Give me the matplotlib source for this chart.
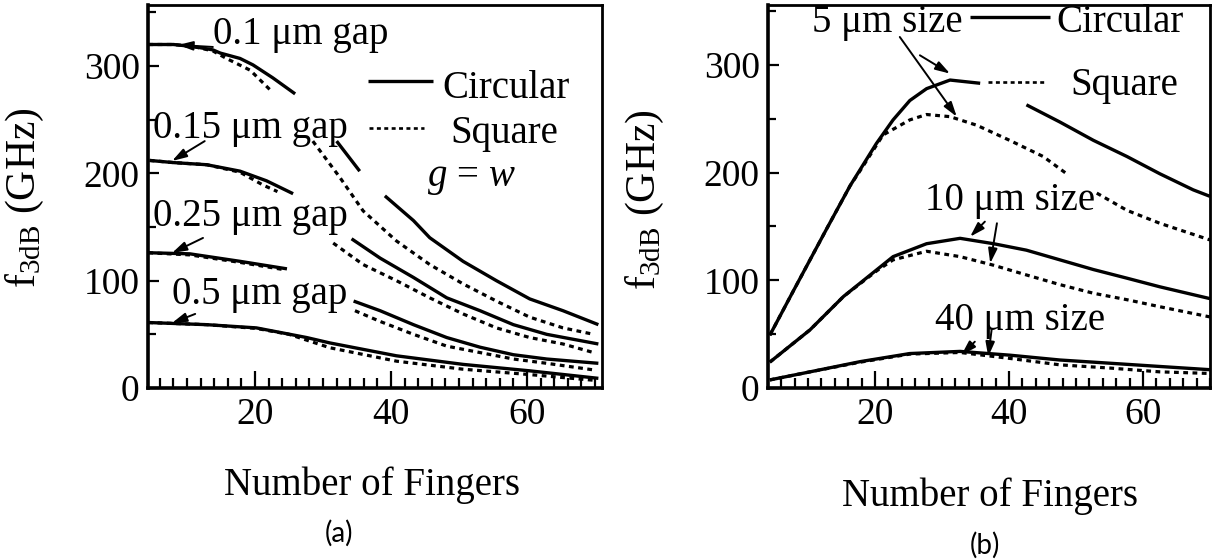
import numpy as np
import matplotlib
matplotlib.use("Agg")
import matplotlib.pyplot as plt
from matplotlib.ticker import MultipleLocator, FixedLocator

plt.rcParams['font.family'] = ['Liberation Serif', 'DejaVu Serif']
plt.rcParams['mathtext.fontset'] = 'custom'
plt.rcParams['mathtext.rm'] = 'Liberation Serif'
plt.rcParams['mathtext.it'] = 'Liberation Serif:italic'

nan = np.nan

# ---------------- data: panel (a), gap = width ----------------
gap01_circ_n = [4.3, 8, 11, 13.8, 14.9, 17.8, 19.7, 22.6, 25.9, nan, 32.0, 35.4, nan,
                39.1, 43.3, 45.7, 50.6, 55.5, 60.4, 65.3, 70.5]
gap01_circ_f = [320, 320, 318, 315, 312, 307, 301, 289, 274, nan, 230, 202, nan,
                179, 156, 140, 118, 100, 83, 72, 59]
gap01_sq_n = [4.3, 8, 11, 13.8, 15.8, 19.3, 22.5, nan, 28.5, 32.5, 35.9, 40.8, 45.7,
              50.6, 55.5, 60.4, 65.3, 69.8]
gap01_sq_f = [320, 320, 318, 314, 307, 296, 276, nan, 230, 196, 165, 137, 115,
              97, 81, 66, 56, 50]

gap015_circ_n = [4.5, 8.0, 12.9, 17.8, 21.7, 25.6, nan, 34.2, 38.4, 43.3, 48.2, 53.1, 58.0, 62.9, 70.5]
gap015_circ_f = [212, 210, 208, 202, 193, 181, nan, 139, 121, 103, 84, 72, 59, 50, 41]
gap015_sq_n = [4.5, 8.0, 12.9, 17.8, 21.2, 23.3, nan, 31.5, 35.9, 40.8, 45.7, 50.6, 55.5, 60.4, 65.3, 69.8]
gap015_sq_f = [212, 210, 208, 201, 189, 183, nan, 135, 115, 100, 84, 69, 56, 47, 41, 33]

gap025_circ_n = [4.3, 10.4, 17.8, 24.7, nan, 34.5, 38.4, 43.3, 48.2, 53.1, 58.0, 62.9, 70.5]
gap025_circ_f = [126, 125, 118, 111, nan, 81, 72, 59, 47, 38, 31, 27, 23]
gap025_sq_n = [4.3, 10.4, 17.8, 24.5, nan, 34.7, 38.4, 43.3, 48.2, 53.1, 58.0, 62.9, 70.2]
gap025_sq_f = [126, 124, 117, 110, nan, 72, 62, 50, 39, 33, 27, 23, 16.5]

gap05_circ_n = [4.3, 12.9, 20.2, 27.6, 31.0, 40.8, 50.6, 60.4, 70.5]
gap05_circ_f = [61, 59, 56, 47, 42, 30, 22, 16, 9]
gap05_sq_n = [4.3, 12.9, 20.2, 25.0, 31.0, 40.8, 50.6, 60.4, 70.2]
gap05_sq_f = [61, 59, 55.5, 50, 37.5, 25, 17.5, 12.5, 7]

# ---------------- data: panel (b), device size ----------------
size5_circ_n = [4.3, 7.8, 12.8, 16.3, 17.8, 20.2, 22.7, 25.2, 27.7, 31.2, 35.7, nan,
                42.6, 47.6, 52.6, 57.6, 62.5, 67.5, 70.0]
size5_circ_f = [49, 90, 148, 188, 203, 227, 249, 267, 278, 286, 283, nan,
                263, 247, 230, 215, 199, 184, 178]
size5_sq_n = [4.3, 7.8, 12.8, 16.3, 17.8, 21.2, 25.2, 27.7, 31.2, 35.2, 40.1, 45.1, 48.6, nan,
              53.1, 57.6, 62.5, 70.0]
size5_sq_f = [49, 90, 148, 188, 202, 235, 249, 254, 252, 244, 230, 215, 199, nan,
              181, 165, 153, 137.5]

size10_n = [4.3, 10.3, 15.3, 20.3, 22.7, 27.7, 32.7, 37.7, 42.6, 47.6, 52.6, 57.6, 62.5, 70.0]
size10_circ_f = [24, 54, 85, 110, 122, 134, 139, 134, 128, 119, 110, 102, 94, 83]
size10_sq_f = [24, 54, 85, 109, 119, 127, 122, 114, 105, 96, 88, 82, 75.5, 66]

size40_n = [4.3, 10.3, 17.8, 25.2, 32.7, 40.1, 47.6, 55.1, 62.5, 70.0]
size40_circ_f = [7.5, 15, 24.5, 32, 34, 30.5, 26, 23, 20, 17]
size40_sq_f = [7.5, 15, 24, 31.5, 33, 27.5, 21.5, 18.5, 15, 13.5]

x_major = [20, 40, 60]
y_major = [0, 100, 200, 300]
y_ticklabels = ["0", "100", "200", "300"]

# ---------------- figure ----------------
W, H = 1215, 560
fig = plt.figure(figsize=(W / 100, H / 100), dpi=100)


def fpos(x, y):
    return x / W, 1 - y / H


axA = fig.add_axes([148 / W, 1 - 388 / H, (601.7 - 148) / W, 383 / H])
axB = fig.add_axes([768 / W, 1 - 388 / H, (1210 - 768) / W, 383 / H])
axA.set_xlim(4.26, 70.99)
axA.set_ylim(0, 356.8)
axB.set_xlim(4.03, 70.0)
axB.set_ylim(0, 355.7)

FS = 28
SOLID = dict(color='black', lw=2.4, solid_capstyle='butt')
DASH = dict(color='black', lw=2.3, linestyle=(0, (1.5, 1.4)))

for ax in (axA, axB):
    ax.xaxis.set_major_locator(FixedLocator(x_major))
    ax.xaxis.set_minor_locator(MultipleLocator(2))
    ax.yaxis.set_major_locator(FixedLocator(y_major))
    ax.yaxis.set_minor_locator(MultipleLocator(50))
    ax.set_yticklabels(y_ticklabels)
    ax.tick_params(axis='both', which='both', direction='in', width=1.6,
                   labelsize=27, top=False, right=False)
    ax.tick_params(axis='x', which='major', length=12, pad=7)
    ax.tick_params(axis='x', which='minor', length=7)
    ax.tick_params(axis='y', which='major', length=8, pad=6)
    ax.tick_params(axis='y', which='minor', length=6)
    for s in ax.spines.values():
        s.set_linewidth(2.0)
    ax.spines['left'].set_linewidth(2.6)
    ax.spines['bottom'].set_linewidth(2.6)

# panel (a) curves
for n, f in [(gap01_circ_n, gap01_circ_f), (gap015_circ_n, gap015_circ_f),
             (gap025_circ_n, gap025_circ_f), (gap05_circ_n, gap05_circ_f)]:
    axA.plot(n, f, **SOLID)
for n, f in [(gap01_sq_n, gap01_sq_f), (gap015_sq_n, gap015_sq_f),
             (gap025_sq_n, gap025_sq_f), (gap05_sq_n, gap05_sq_f)]:
    axA.plot(n, f, **DASH)

# panel (b) curves
axB.plot(size5_circ_n, size5_circ_f, **SOLID)
axB.plot(size5_sq_n, size5_sq_f, **DASH)
axB.plot(size10_n, size10_circ_f, **SOLID)
axB.plot(size10_n, size10_sq_f, **DASH)
axB.plot(size40_n, size40_circ_f, **SOLID)
axB.plot(size40_n, size40_sq_f, **DASH)

ARW = dict(arrowstyle='-|>,head_length=0.55,head_width=0.17', color='black',
           lw=1.4, mutation_scale=16, shrinkA=0, shrinkB=0)

# panel (a) annotations
axA.text(13.8, 320.2, "0.1 \u03bcm gap", fontsize=FS, va='baseline')
axA.text(5.0, 233, "0.15 \u03bcm gap", fontsize=FS, va='baseline')
axA.text(5.0, 151, "0.25 \u03bcm gap", fontsize=FS, va='baseline')
axA.text(7.8, 78.3, "0.5 \u03bcm gap", fontsize=FS, va='baseline')
axA.annotate("", xy=(8.7, 319.6), xytext=(13.8, 317.7), arrowprops=ARW)
axA.annotate("", xy=(7.8, 211.5), xytext=(12.6, 230), arrowprops=ARW)
axA.annotate("", xy=(7.8, 125.8), xytext=(12.35, 139.8), arrowprops=ARW)
axA.annotate("", xy=(7.8, 60.6), xytext=(11.2, 69), arrowprops=ARW)

axA.plot([36.6, 46.2], [286, 286], **SOLID)
axA.text(47.5, 270.2, "Circular", fontsize=FS, va='baseline')
axA.plot([36.7, 44.8], [242.5, 242.5], color='black', lw=1.9, linestyle=(0, (1.5, 1.3)))
axA.text(48.7, 228.5, "Square", fontsize=FS, va='baseline')
axA.text(45.3, 188, r"$g\,=\,w$", fontsize=FS, va='baseline')

# panel (b) annotations
axB.text(10.6, 330.6, "5 \u03bcm size", fontsize=FS, va='baseline')
axB.text(27.5, 165.3, "10 \u03bcm size", fontsize=FS, va='baseline')
axB.text(29.0, 53.9, "40 \u03bcm size", fontsize=FS, va='baseline')
axB.annotate("", xy=(31.2, 292), xytext=(26.7, 309), arrowprops=ARW)
axB.annotate("", xy=(32.2, 252), xytext=(23.7, 326), arrowprops=ARW)
axB.annotate("", xy=(34.2, 140.5), xytext=(36.4, 154.5), arrowprops=ARW)
axB.annotate("", xy=(37.2, 115.8), xytext=(38.2, 153), arrowprops=ARW)
axB.annotate("", xy=(32.9, 30.6), xytext=(34.9, 43), arrowprops=ARW)
axB.annotate("", xy=(36.9, 29.1), xytext=(37.4, 53.9), arrowprops=ARW)

axB.plot([34.2, 46.1], [344.9, 344.9], **SOLID)
axB.text(47.1, 330.6, "Circular", fontsize=FS, va='baseline')
axB.plot([36.9, 45.6], [284.5, 284.5], color='black', lw=1.9, linestyle=(0, (1.5, 1.3)))
axB.text(49.1, 272, "Square", fontsize=FS, va='baseline')

# axis titles and panel labels
ylab = r"f$_{\mathrm{3dB}}$ (GHz)"
fig.text(*fpos(25, 198), ylab, rotation=90, ha='center', va='center', fontsize=30)
fig.text(*fpos(645, 200), ylab, rotation=90, ha='center', va='center', fontsize=30)
fig.text(*fpos(372, 495), "Number of Fingers", ha='center', va='baseline', fontsize=FS)
fig.text(*fpos(990, 506), "Number of Fingers", ha='center', va='baseline', fontsize=FS)
fig.text(*fpos(339, 533), "(a)", ha='center', va='center', fontsize=20, family='Lato')
fig.text(*fpos(985, 545), "(b)", ha='center', va='center', fontsize=20, family='Lato')

fig.savefig("out.png", dpi=100)
